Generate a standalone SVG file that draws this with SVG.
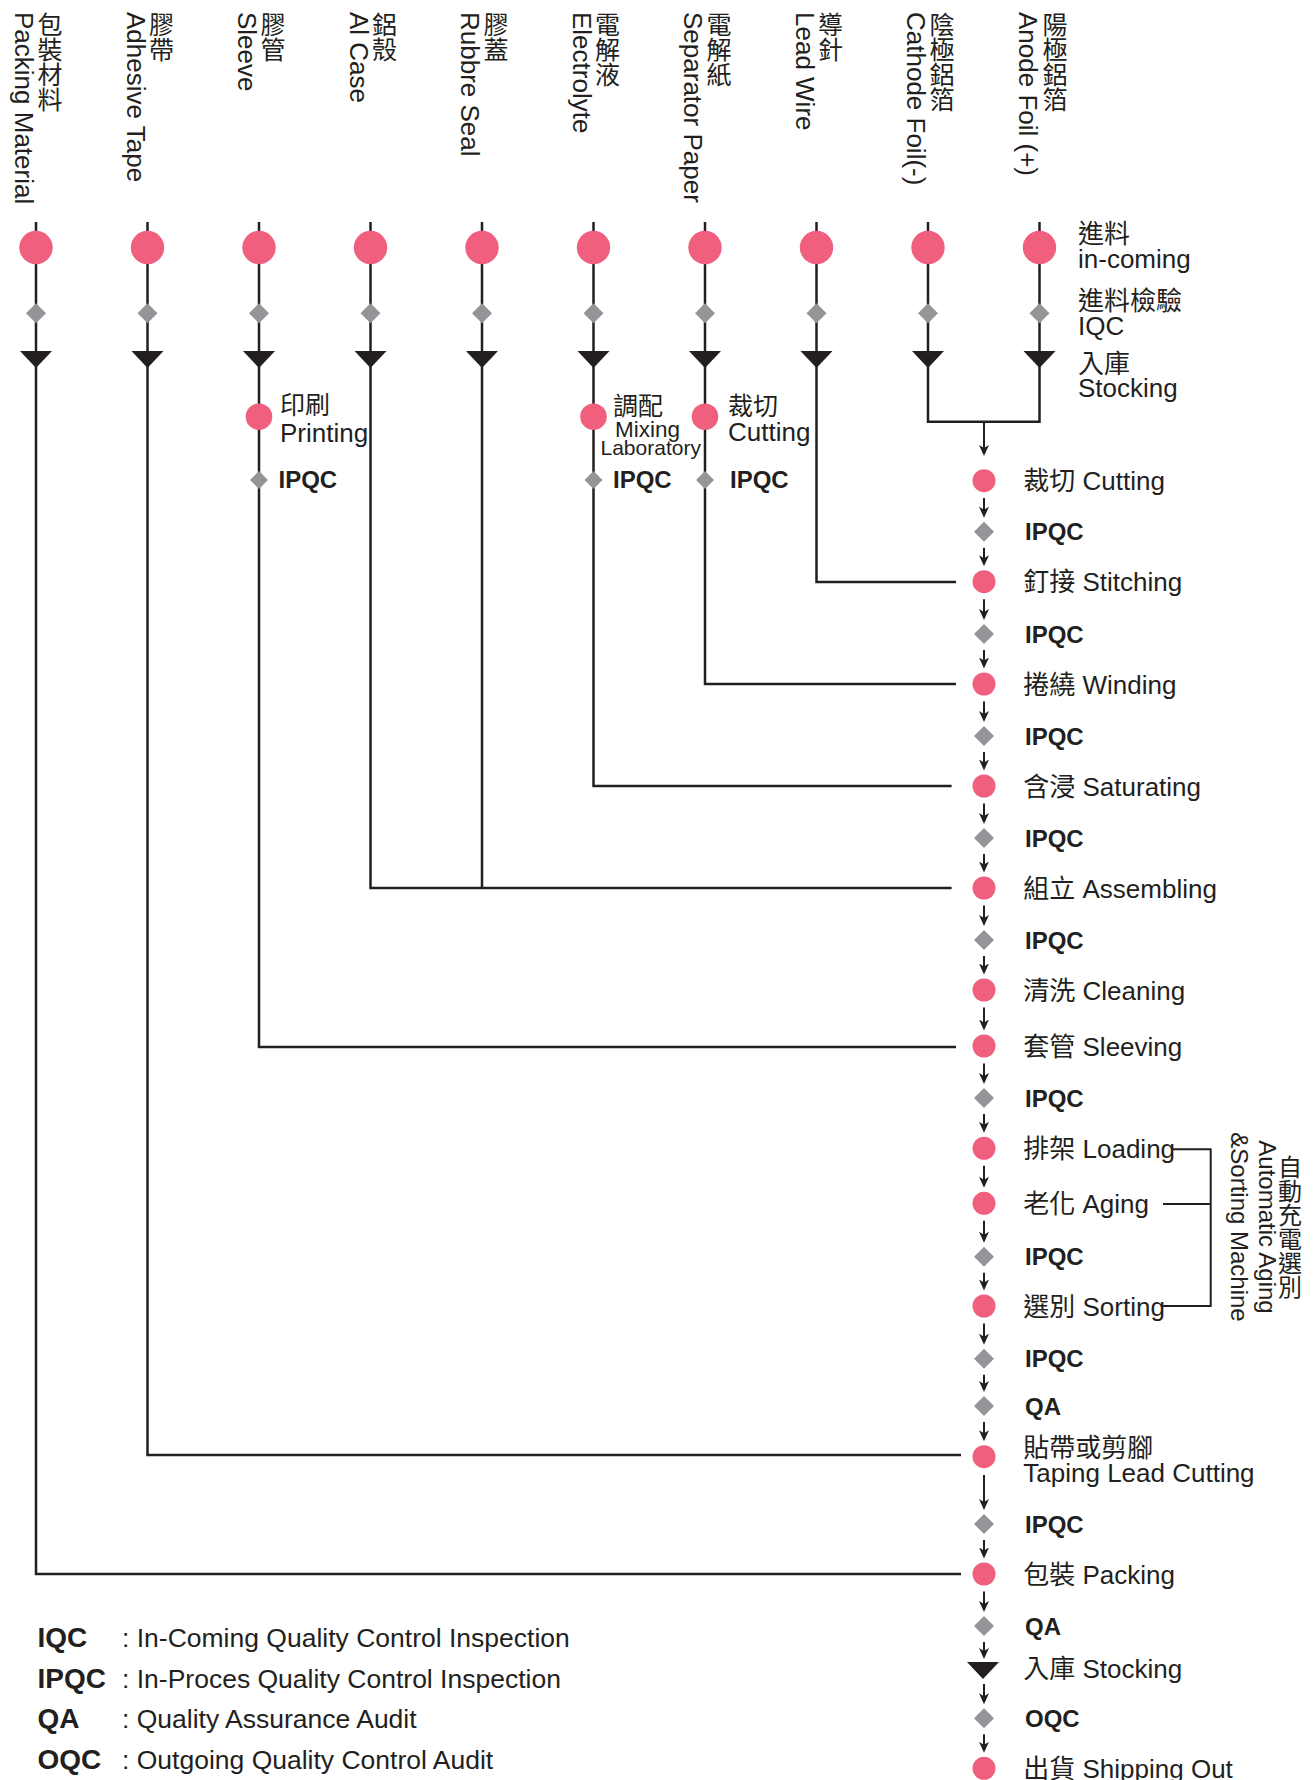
<svg xmlns="http://www.w3.org/2000/svg" xmlns:xlink="http://www.w3.org/1999/xlink" width="1315" height="1780" viewBox="0 0 1315 1780">
<style>
.ln{stroke:#231F20;stroke-width:2.5;fill:none}
.br{stroke:#231F20;stroke-width:2;fill:none}
.ar{stroke:#231F20;stroke-width:2;fill:none;marker-end:url(#ah)}
.dot{fill:#F0607E}
.dia{fill:#939598}
.tri{fill:#231F20}
.t{font-family:"Liberation Sans","Noto Sans CJK TC",sans-serif;font-size:26px;fill:#231F20}
.v{font-family:"Liberation Sans","Noto Sans CJK TC",sans-serif;font-size:26px;fill:#231F20}
.vz{font-family:"Noto Sans CJK TC",sans-serif;font-size:25px;fill:#231F20;writing-mode:vertical-rl}
.b{font-family:"Liberation Sans",sans-serif;font-weight:bold;font-size:24px;fill:#231F20}
.lg{font-family:"Liberation Sans",sans-serif;font-size:26.5px;fill:#231F20}
.lb{font-family:"Liberation Sans",sans-serif;font-weight:bold;font-size:28px;fill:#231F20}
</style>
<defs>
<marker id="ah" viewBox="0 0 11 10" refX="7" refY="5" markerWidth="11" markerHeight="10" markerUnits="userSpaceOnUse" orient="auto">
<path d="M0,0 L11,5 L0,10 L3,5 Z" fill="#231F20"/>
</marker>
<circle id="c1" r="16.7" class="dot"/>
<circle id="c2" r="13.3" class="dot"/>
<circle id="c3" r="11.5" class="dot"/>
<path id="dm" class="dia" d="M0,-10 L10,0 L0,10 L-10,0 Z"/>
<path id="dms" class="dia" d="M0,-9 L9,0 L0,9 L-9,0 Z"/>
<path id="tr" class="tri" d="M-16,0 L16,0 L0,17 Z"/>
</defs>

<g id="connectors">
<path class="ln" d="M36,222 V1574 H961"/>
<path class="ln" d="M147.5,222 V1455 H961"/>
<path class="ln" d="M259,222 V1047 H956"/>
<path class="ln" d="M370.5,222 V888 H951.6"/>
<path class="ln" d="M482,222 V888"/>
<path class="ln" d="M593.5,222 V786 H951.6"/>
<path class="ln" d="M705,222 V684 H956"/>
<path class="ln" d="M816.5,222 V582 H956"/>
<path class="ln" d="M928,222 V421.7 H1039.5 V222"/>
<path class="ar" d="M984,421.7 V452"/>
<path class="br" d="M1173,1149.3 H1210.7 V1306 H1163 M1163,1204 H1210.7"/>
<line class="ar" x1="984" y1="498" x2="984" y2="513.7"/>
<line class="ar" x1="984" y1="547.7" x2="984" y2="562.2"/>
<line class="ar" x1="984" y1="599.2" x2="984" y2="616"/>
<line class="ar" x1="984" y1="650" x2="984" y2="664.5"/>
<line class="ar" x1="984" y1="701.5" x2="984" y2="718"/>
<line class="ar" x1="984" y1="752" x2="984" y2="766.5"/>
<line class="ar" x1="984" y1="803.5" x2="984" y2="820"/>
<line class="ar" x1="984" y1="854" x2="984" y2="868.5"/>
<line class="ar" x1="984" y1="905.5" x2="984" y2="922"/>
<line class="ar" x1="984" y1="956" x2="984" y2="970.5"/>
<line class="ar" x1="984" y1="1007.5" x2="984" y2="1026.5"/>
<line class="ar" x1="984" y1="1063.5" x2="984" y2="1080"/>
<line class="ar" x1="984" y1="1114" x2="984" y2="1128.8"/>
<line class="ar" x1="984" y1="1165.8" x2="984" y2="1183.8"/>
<line class="ar" x1="984" y1="1220.8" x2="984" y2="1238.7"/>
<line class="ar" x1="984" y1="1272.7" x2="984" y2="1286.5"/>
<line class="ar" x1="984" y1="1323.5" x2="984" y2="1340.7"/>
<line class="ar" x1="984" y1="1374.7" x2="984" y2="1388"/>
<line class="ar" x1="984" y1="1422" x2="984" y2="1437.2"/>
<line class="ar" x1="984" y1="1475" x2="984" y2="1506"/>
<line class="ar" x1="984" y1="1540" x2="984" y2="1554.5"/>
<line class="ar" x1="984" y1="1591.5" x2="984" y2="1608"/>
<line class="ar" x1="984" y1="1642" x2="984" y2="1655"/>
<line class="ar" x1="984" y1="1684" x2="984" y2="1700.3"/>
<line class="ar" x1="984" y1="1734.3" x2="984" y2="1748.8"/>
</g>

<g id="col-packing-material">
<use xlink:href="#c1" x="36" y="247.5"/><use xlink:href="#dm" x="36" y="313.3"/><use xlink:href="#tr" x="36" y="351"/>
<text class="vz" x="50" y="12">包裝材料</text>
<text class="v" transform="translate(15,12) rotate(90)">Packing Material</text>
</g>
<g id="col-adhesive-tape">
<use xlink:href="#c1" x="147.5" y="247.5"/><use xlink:href="#dm" x="147.5" y="313.3"/><use xlink:href="#tr" x="147.5" y="351"/>
<text class="vz" x="161.5" y="12">膠帶</text>
<text class="v" transform="translate(126.5,12) rotate(90)">Adhesive Tape</text>
</g>
<g id="col-sleeve">
<use xlink:href="#c1" x="259" y="247.5"/><use xlink:href="#dm" x="259" y="313.3"/><use xlink:href="#tr" x="259" y="351"/>
<text class="vz" x="273" y="12">膠管</text>
<text class="v" transform="translate(238,12) rotate(90)">Sleeve</text>
</g>
<g id="col-al-case">
<use xlink:href="#c1" x="370.5" y="247.5"/><use xlink:href="#dm" x="370.5" y="313.3"/><use xlink:href="#tr" x="370.5" y="351"/>
<text class="vz" x="384.5" y="12">鋁殼</text>
<text class="v" transform="translate(349.5,12) rotate(90)">Al Case</text>
</g>
<g id="col-rubbre-seal">
<use xlink:href="#c1" x="482" y="247.5"/><use xlink:href="#dm" x="482" y="313.3"/><use xlink:href="#tr" x="482" y="351"/>
<text class="vz" x="496" y="12">膠蓋</text>
<text class="v" transform="translate(461,12) rotate(90)">Rubbre Seal</text>
</g>
<g id="col-electrolyte">
<use xlink:href="#c1" x="593.5" y="247.5"/><use xlink:href="#dm" x="593.5" y="313.3"/><use xlink:href="#tr" x="593.5" y="351"/>
<text class="vz" x="607.5" y="12">電解液</text>
<text class="v" transform="translate(572.5,12) rotate(90)">Electrolyte</text>
</g>
<g id="col-separator-paper">
<use xlink:href="#c1" x="705" y="247.5"/><use xlink:href="#dm" x="705" y="313.3"/><use xlink:href="#tr" x="705" y="351"/>
<text class="vz" x="719" y="12">電解紙</text>
<text class="v" transform="translate(684,12) rotate(90)">Separator Paper</text>
</g>
<g id="col-lead-wire">
<use xlink:href="#c1" x="816.5" y="247.5"/><use xlink:href="#dm" x="816.5" y="313.3"/><use xlink:href="#tr" x="816.5" y="351"/>
<text class="vz" x="830.5" y="12">導針</text>
<text class="v" transform="translate(795.5,12) rotate(90)">Lead Wire</text>
</g>
<g id="col-cathode-foil">
<use xlink:href="#c1" x="928" y="247.5"/><use xlink:href="#dm" x="928" y="313.3"/><use xlink:href="#tr" x="928" y="351"/>
<text class="vz" x="942" y="12">陰極鋁箔</text>
<text class="v" transform="translate(907,12) rotate(90)">Cathode Foil(-)</text>
</g>
<g id="col-anode-foil">
<use xlink:href="#c1" x="1039.5" y="247.5"/><use xlink:href="#dm" x="1039.5" y="313.3"/><use xlink:href="#tr" x="1039.5" y="351"/>
<text class="vz" x="1055" y="12">陽極鋁箔</text>
<text class="v" transform="translate(1018.5,12) rotate(90)">Anode Foil (+)</text>
</g>

<g id="stage-labels">
<text class="t" x="1078" y="243">進料</text>
<text class="t" x="1078" y="268">in-coming</text>
<text class="t" x="1078" y="310">進料檢驗</text>
<text class="t" x="1078" y="335">IQC</text>
<text class="t" x="1078" y="373">入庫</text>
<text class="t" x="1078" y="397">Stocking</text>
</g>

<g id="sub-printing">
<use xlink:href="#c2" x="259" y="416.7"/>
<text class="t" x="280" y="414" style="font-size:25px">印刷</text>
<text class="t" x="280" y="441.7">Printing</text>
</g>
<g id="sub-printing-ipqc">
<use xlink:href="#dms" x="259" y="480"/>
<text class="b" x="278.5" y="487.5">IPQC</text>
</g>
<g id="sub-mixing">
<use xlink:href="#c2" x="593.5" y="416.7"/>
<text class="t" x="613" y="415" style="font-size:25px">調配</text>
<text class="t" x="615" y="436.7" style="font-size:22.5px">Mixing</text>
<text class="t" x="600.5" y="455" style="font-size:21px">Laboratory</text>
</g>
<g id="sub-mixing-ipqc">
<use xlink:href="#dms" x="593.5" y="480"/>
<text class="b" x="613" y="487.5">IPQC</text>
</g>
<g id="sub-cutting">
<use xlink:href="#c2" x="705" y="416.7"/>
<text class="t" x="728" y="415" style="font-size:25px">裁切</text>
<text class="t" x="728" y="440.5">Cutting</text>
</g>
<g id="sub-cutting-ipqc">
<use xlink:href="#dms" x="705" y="480"/>
<text class="b" x="730" y="487.5">IPQC</text>
</g>

<g id="step-cutting"><use xlink:href="#c3" x="984" y="480.7"/><text class="t" x="1023.3" y="490.2">裁切 Cutting</text></g>
<g id="step-ipqc-1"><use xlink:href="#dm" x="984" y="531.7"/><text class="b" x="1025" y="540.2">IPQC</text></g>
<g id="step-stitching"><use xlink:href="#c3" x="984" y="581.7"/><text class="t" x="1023.3" y="591.2">釘接 Stitching</text></g>
<g id="step-ipqc-2"><use xlink:href="#dm" x="984" y="634"/><text class="b" x="1025" y="642.5">IPQC</text></g>
<g id="step-winding"><use xlink:href="#c3" x="984" y="684"/><text class="t" x="1023.3" y="693.5">捲繞 Winding</text></g>
<g id="step-ipqc-3"><use xlink:href="#dm" x="984" y="736"/><text class="b" x="1025" y="744.5">IPQC</text></g>
<g id="step-saturating"><use xlink:href="#c3" x="984" y="786"/><text class="t" x="1023.3" y="795.5">含浸 Saturating</text></g>
<g id="step-ipqc-4"><use xlink:href="#dm" x="984" y="838"/><text class="b" x="1025" y="846.5">IPQC</text></g>
<g id="step-assembling"><use xlink:href="#c3" x="984" y="888"/><text class="t" x="1023.3" y="897.5">組立 Assembling</text></g>
<g id="step-ipqc-5"><use xlink:href="#dm" x="984" y="940"/><text class="b" x="1025" y="948.5">IPQC</text></g>
<g id="step-cleaning"><use xlink:href="#c3" x="984" y="990"/><text class="t" x="1023.3" y="999.5">清洗 Cleaning</text></g>
<g id="step-sleeving"><use xlink:href="#c3" x="984" y="1046"/><text class="t" x="1023.3" y="1055.5">套管 Sleeving</text></g>
<g id="step-ipqc-6"><use xlink:href="#dm" x="984" y="1098"/><text class="b" x="1025" y="1106.5">IPQC</text></g>
<g id="step-loading"><use xlink:href="#c3" x="984" y="1148.3"/><text class="t" x="1023.3" y="1157.8">排架 Loading</text></g>
<g id="step-aging"><use xlink:href="#c3" x="984" y="1203.3"/><text class="t" x="1023.3" y="1212.8">老化 Aging</text></g>
<g id="step-ipqc-7"><use xlink:href="#dm" x="984" y="1256.7"/><text class="b" x="1025" y="1265.2">IPQC</text></g>
<g id="step-sorting"><use xlink:href="#c3" x="984" y="1306"/><text class="t" x="1023.3" y="1315.5">選別 Sorting</text></g>
<g id="step-ipqc-8"><use xlink:href="#dm" x="984" y="1358.7"/><text class="b" x="1025" y="1367.2">IPQC</text></g>
<g id="step-qa-1"><use xlink:href="#dm" x="984" y="1406"/><text class="b" x="1025" y="1414.5">QA</text></g>
<g id="step-taping"><use xlink:href="#c3" x="984" y="1456.7"/>
<text class="t" x="1023.3" y="1456.5">貼帶或剪腳</text>
<text class="t" x="1023.3" y="1482">Taping Lead Cutting</text></g>
<g id="step-ipqc-9"><use xlink:href="#dm" x="984" y="1524"/><text class="b" x="1025" y="1532.5">IPQC</text></g>
<g id="step-packing"><use xlink:href="#c3" x="984" y="1574"/><text class="t" x="1023.3" y="1583.5">包裝 Packing</text></g>
<g id="step-qa-2"><use xlink:href="#dm" x="984" y="1626"/><text class="b" x="1025" y="1634.5">QA</text></g>
<g id="step-stocking"><use xlink:href="#tr" x="983" y="1662"/><text class="t" x="1023.3" y="1678">入庫 Stocking</text></g>
<g id="step-oqc"><use xlink:href="#dm" x="984" y="1718.3"/><text class="b" x="1025" y="1726.8">OQC</text></g>
<g id="step-shipping"><use xlink:href="#c3" x="984" y="1768.3"/><text class="t" x="1023.3" y="1777.8">出貨 Shipping Out</text></g>

<g id="machine-label">
<text class="vz" style="font-size:24px" x="1290" y="1227" text-anchor="middle">自動充電選別</text>
<text class="v" style="font-size:24px" text-anchor="middle" transform="translate(1259,1227) rotate(90)">Automatic Aging</text>
<text class="v" style="font-size:24px" text-anchor="middle" transform="translate(1231,1227) rotate(90)">&amp;Sorting Machine</text>
</g>

<g id="legend">
<text class="lb" x="37.5" y="1646.7">IQC</text><text class="lg" x="122" y="1646.7">: In-Coming Quality Control Inspection</text>
<text class="lb" x="37.5" y="1687.5">IPQC</text><text class="lg" x="122" y="1687.5">: In-Proces Quality Control Inspection</text>
<text class="lb" x="37.5" y="1728.3">QA</text><text class="lg" x="122" y="1728.3">: Quality Assurance Audit</text>
<text class="lb" x="37.5" y="1769">OQC</text><text class="lg" x="122" y="1769">: Outgoing Quality Control Audit</text>
</g>
</svg>
